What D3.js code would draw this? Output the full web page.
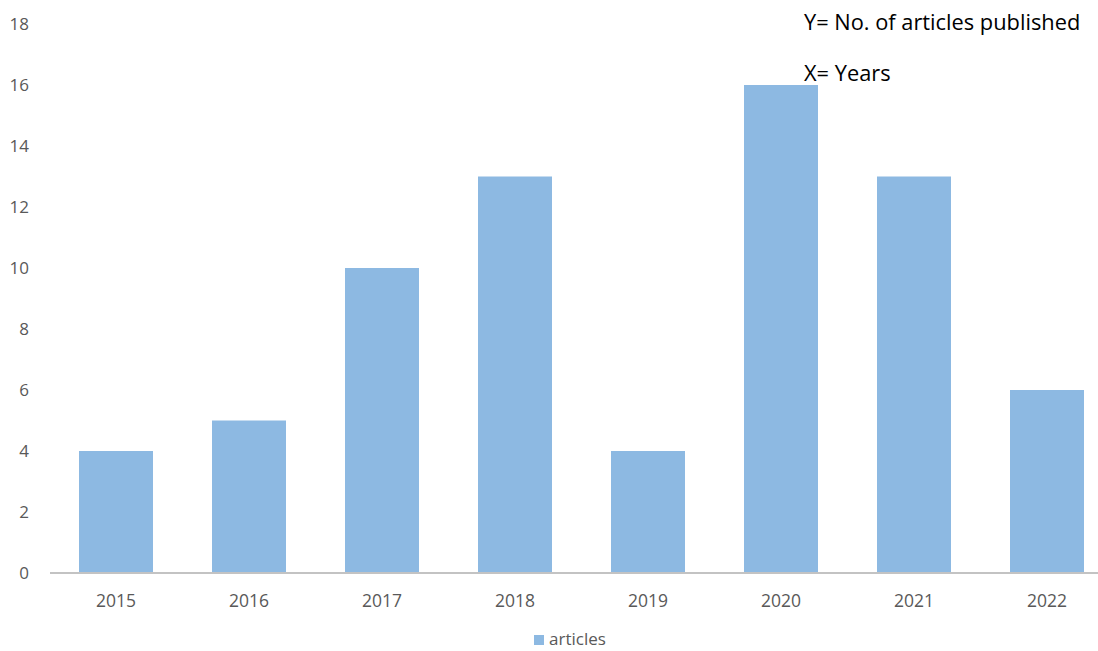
<!DOCTYPE html>
<html>
<head>
<meta charset="utf-8">
<script src="https://cdn.jsdelivr.net/npm/d3@7"></script>
<style>
  body { margin: 0; background: #fff; }
  text { font-family: "Open Sans", "Noto Sans", sans-serif; }
</style>
</head>
<body>
<script>
var years = ["2015", "2016", "2017", "2018", "2019", "2020", "2021", "2022"];
var articles = [4, 5, 10, 13, 4, 16, 13, 6];
var yTicks = [0, 2, 4, 6, 8, 10, 12, 14, 16, 18];

var svg_width = 1098;
var svg_height = 651;

var svg = d3.select('body').append('svg')
            .attr('width', svg_width)
            .attr('height', svg_height);

// band step 133, bar width 74 as in the picture
var x = d3.scaleBand()
          .domain(years)
          .range([49.5, 49.5 + 133 * years.length])
          .paddingInner(59 / 133)
          .paddingOuter(29.5 / 133);

var y = d3.scaleLinear()
          .domain([0, 18])
          .range([573, 24]);

// bars
svg.append("g")
   .selectAll("rect")
   .data(articles)
   .enter().append("rect")
   .attr("x", (d, i) => x(years[i]))
   .attr("width", x.bandwidth())
   .attr("y", d => y(d))
   .attr("height", d => y(0) - y(d))
   .attr("fill", "#8db9e2");

// x axis line
svg.append("line")
   .attr("x1", 50).attr("x2", svg_width)
   .attr("y1", y(0)).attr("y2", y(0))
   .attr("stroke", "#c3c3c3")
   .attr("stroke-width", 2);

// y tick labels
svg.append("g")
   .selectAll("text")
   .data(yTicks)
   .enter().append("text")
   .attr("x", 29)
   .attr("y", d => y(d) + 6)
   .attr("text-anchor", "end")
   .attr("font-size", 17)
   .attr("fill", "#595959")
   .text(d => d);

// x tick labels
svg.append("g")
   .selectAll("text")
   .data(years)
   .enter().append("text")
   .attr("x", d => x(d) + x.bandwidth() / 2)
   .attr("y", 607)
   .attr("text-anchor", "middle")
   .attr("font-size", 17.5)
   .attr("fill", "#595959")
   .text(d => d);

// legend
svg.append("rect")
   .attr("x", 534).attr("y", 635)
   .attr("width", 10).attr("height", 10)
   .attr("fill", "#8db9e2");
svg.append("text")
   .attr("x", 549).attr("y", 645)
   .attr("font-size", 17)
   .attr("fill", "#595959")
   .text("articles");

// notes
svg.append("text")
   .attr("x", 804).attr("y", 30)
   .attr("font-size", 21.8)
   .attr("fill", "#000")
   .text("Y= No. of articles published");
svg.append("text")
   .attr("x", 804).attr("y", 81)
   .attr("font-size", 21.8)
   .attr("fill", "#000")
   .text("X= Years");
</script>
</body>
</html>
